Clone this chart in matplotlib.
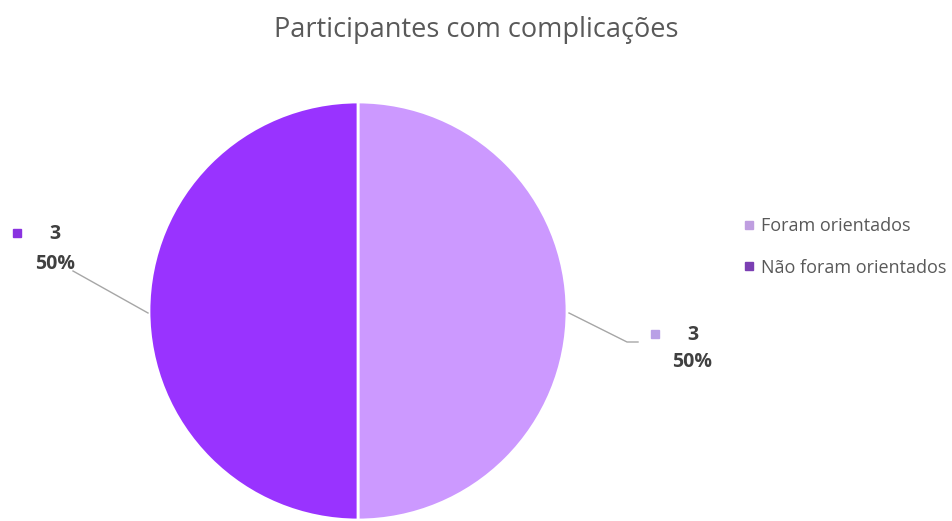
import numpy as np
import matplotlib
matplotlib.use('Agg')
import matplotlib.pyplot as plt
from matplotlib.lines import Line2D

plt.rcParams['font.family'] = ['Open Sans', 'DejaVu Sans']

# dados
titulo = 'Participantes com complicações'
categorias = ['Foram orientados', 'Não foram orientados']
valores = [3, 3]
cores = ['#cc99ff', '#9933ff']
cores_legenda = ['#bf9ee0', '#7b3fb3']
cores_rotulo = ['#b9a0e6', '#8a33e0']

W, H = 953, 521
fig = plt.figure(figsize=(W / 100, H / 100), dpi=100)

# pizza: centro (358, 311) px, raio 209 px
cx, cy, r = 358, 311, 209
ax = fig.add_axes([(cx - r) / W, (H - cy - r) / H, 2 * r / W, 2 * r / H])
ax.pie(valores, colors=cores, startangle=90, counterclock=False, radius=1,
       wedgeprops=dict(edgecolor='white', linewidth=2))
ax.set_xlim(-1, 1)
ax.set_ylim(-1, 1)
ax.set_aspect('equal')
ax.axis('off')

fig.text(0.5, 1 - 30 / H, titulo, ha='center', va='center', fontsize=19.5, color='#595959')


def px(x, y):
    return (x - cx) / r, (cy - y) / r


total = sum(valores)
pct = [f'{v / total:.0%}' for v in valores]

# posições dos rótulos (marcador, valor, percentual) e linhas de chamada
pos_rot = [
    dict(mk=(655, 334), val=(693, 335), pct=(692, 362),
         linha=[(569, 313), (627, 342), (638, 342)]),
    dict(mk=(17, 233), val=(55, 234), pct=(55, 264),
         linha=[(148, 313), (73, 271)]),
]
for i, p in enumerate(pos_rot):
    xs, ys = zip(*[px(*q) for q in p['linha']])
    ax.plot(xs, ys, color='#a6a6a6', lw=1, clip_on=False)
    ax.plot(*px(*p['mk']), marker='s', ms=6, color=cores_rotulo[i], clip_on=False)
    ax.text(*px(*p['val']), str(valores[i]), ha='center', va='center', fontsize=14,
            fontweight='bold', color='#404040')
    ax.text(*px(*p['pct']), pct[i], ha='center', va='center', fontsize=14,
            fontweight='bold', color='#404040')

handles = [Line2D([], [], ls='none', marker='s', ms=6, color=c) for c in cores_legenda]
fig.legend(handles, categorias, loc='center left', bbox_to_anchor=(727 / W, 1 - 247 / H),
           frameon=False, fontsize=13, labelcolor='#595959', handlelength=0.6,
           handletextpad=0.4, labelspacing=1.3)

fig.savefig('out.png', dpi=100, facecolor='white')
